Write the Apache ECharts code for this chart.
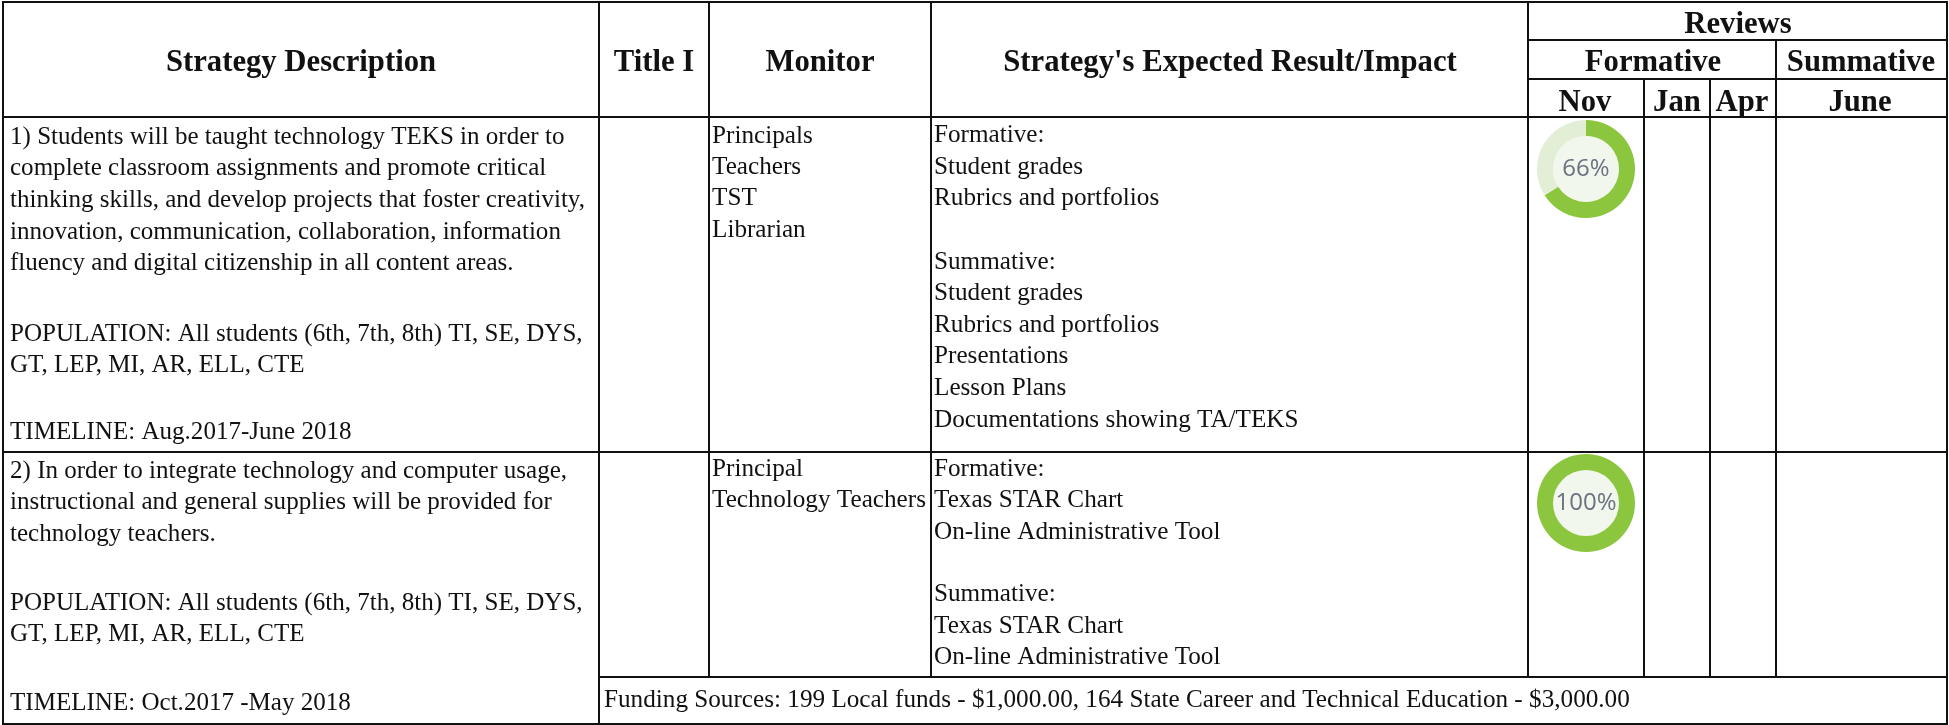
<!DOCTYPE html>
<html><head><meta charset="utf-8">
<style>html,body{margin:0;padding:0;background:#fff}#c{width:1949px;height:725px}</style>
<script src="https://cdn.jsdelivr.net/npm/echarts@6/dist/echarts.min.js"></script>
</head><body><div id="c"></div>
<script>
// ---- data ----
const reviewMonths = ['Nov','Jan','Apr','June'];
const strategyOneCompletion = 66;
const strategyTwoCompletion = 100;
const headerMain = ['Strategy Description','Title I','Monitor',"Strategy's Expected Result/Impact"];
const headerReviews = ['Reviews','Formative','Summative'];
const strategyOneText = ['1) Students will be taught technology TEKS in order to','complete classroom assignments and promote critical','thinking skills, and develop projects that foster creativity,','innovation, communication, collaboration, information','fluency and digital citizenship in all content areas.'];
const strategyOnePop = ['POPULATION: All students (6th, 7th, 8th) TI, SE, DYS,','GT, LEP, MI, AR, ELL, CTE'];
const strategyOneTime = 'TIMELINE: Aug.2017-June 2018';
const strategyOneMonitor = ['Principals','Teachers','TST','Librarian'];
const strategyOneResult = ['Formative:','Student grades','Rubrics and portfolios','','Summative:','Student grades','Rubrics and portfolios','Presentations','Lesson Plans','Documentations showing TA/TEKS'];
const strategyTwoText = ['2) In order to integrate technology and computer usage,','instructional and general supplies will be provided for','technology teachers.'];
const strategyTwoPop = ['POPULATION: All students (6th, 7th, 8th) TI, SE, DYS,','GT, LEP, MI, AR, ELL, CTE'];
const strategyTwoTime = 'TIMELINE: Oct.2017 -May 2018';
const strategyTwoMonitor = ['Principal','Technology Teachers'];
const strategyTwoResult = ['Formative:','Texas STAR Chart','On-line Administrative Tool','','Summative:','Texas STAR Chart','On-line Administrative Tool'];
const fundingText = 'Funding Sources: 199 Local funds - $1,000.00, 164 State Career and Technical Education - $3,000.00';

// ---- layout ----
const SERIF = '"Liberation Serif","Times New Roman",serif';
const INK = '#111';
const LEFT = 25.05, BODY = 25.2, HEAD = 30.7;
const vRules = [[3,2,724],[599,2,724],[709,2,677],[931,2,677],[1528,2,677],[1947,2,724],[1644,79,677],[1710,79,677],[1776,40,677]];
const hRules = [[2,3,1947],[40,1528,1947],[79,1528,1947],[117,3,1947],[452,3,1947],[677,599,1947],[724,3,1947]];
const g = [];
vRules.forEach(r => g.push({type:'line',silent:true,shape:{x1:r[0],y1:r[1]-1,x2:r[0],y2:r[2]+1},style:{stroke:INK,lineWidth:2}}));
hRules.forEach(r => g.push({type:'line',silent:true,shape:{x1:r[1]-1,y1:r[0],x2:r[2]+1,y2:r[0]},style:{stroke:INK,lineWidth:2}}));
function txt(s,x,y,o={}){
  g.push({type:'text',silent:true,x,y,style:{text:s,fill:o.fill||'#111',font:(o.bold?'bold ':'')+(o.size||BODY)+'px '+SERIF,textAlign:o.align||'left',textVerticalAlign:'middle'}});
}
function block(arr,x,y,step,size){arr.forEach((s,i)=>{if(s)txt(s,x,y+i*step,{size})});}
// headers
const hb = {bold:true,size:HEAD,align:'center'};
txt(headerMain[0],301,63,hb); txt(headerMain[1],654,63,hb); txt(headerMain[2],820,63,hb); txt(headerMain[3],1230,63,hb);
txt(headerReviews[0],1738,25,hb); txt(headerReviews[1],1653,63,hb); txt(headerReviews[2],1861,63,hb);
txt(reviewMonths[0],1585,103,hb); txt(reviewMonths[1],1677,103,hb); txt(reviewMonths[2],1742,103,hb); txt(reviewMonths[3],1860,103,hb);
// strategy 1
block(strategyOneText,10,137,31.7,LEFT);
block(strategyOnePop,10,334,31,LEFT);
txt(strategyOneTime,10,432,{size:LEFT});
block(strategyOneMonitor,712,136,31.3,BODY);
block(strategyOneResult,934,135.5,31.6,BODY);
// strategy 2
block(strategyTwoText,10,471,31.5,LEFT);
block(strategyTwoPop,10,603,31,LEFT);
txt(strategyTwoTime,10,703,{size:LEFT});
block(strategyTwoMonitor,712,469.5,31.3,BODY);
block(strategyTwoResult,934,469.5,31.3,BODY);
txt(fundingText,604,700);

function gauge(value,cy){
  return [
   {type:'pie',silent:true,animation:false,radius:[0,33],center:[1586,cy],label:{show:false},labelLine:{show:false},
    data:[{value:1,itemStyle:{color:'#F1F7EC'}}]},
   {type:'pie',silent:true,animation:false,radius:[33,49],center:[1586,cy],startAngle:90,clockwise:true,
    emphasis:{disabled:true},labelLine:{show:false},
    label:{show:true,position:'center',formatter:value+'%',fontFamily:'"Open Sans"',fontSize:24,color:'#6a7280',padding:[3,0,0,0]},
    data:[{value:value,itemStyle:{color:'#8CC63F'}},{value:100-value,label:{show:false},itemStyle:{color:'#E2EFD6'}}]}
  ];
}
const chart = echarts.init(document.getElementById('c'),null,{renderer:'canvas'});
chart.setOption({animation:false,backgroundColor:'#fff',graphic:{elements:g},
  series:[...gauge(strategyOneCompletion,169),...gauge(strategyTwoCompletion,503)]});
</script></body></html>
